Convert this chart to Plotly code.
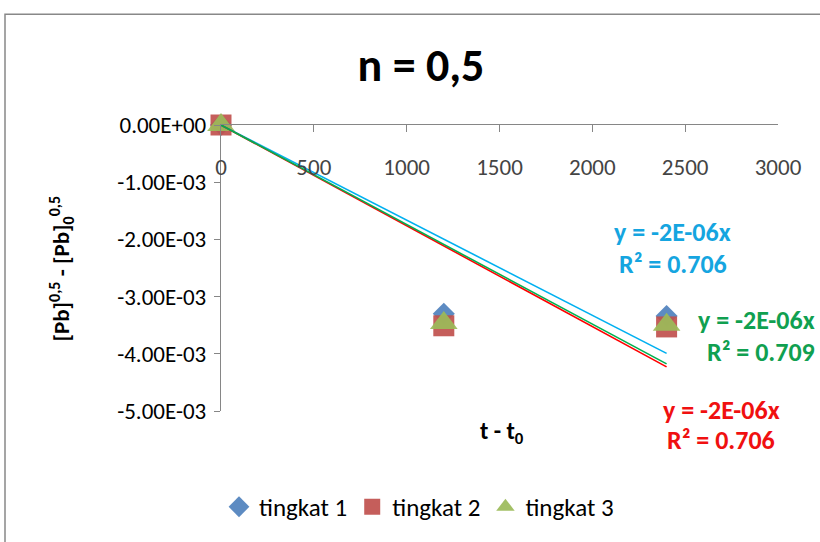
import numpy as np
import plotly.graph_objects as go

# Elapsed time t - t0 (s) and the three series
t = [0, 1200, 2400]
tingkat_1 = [0.0, -3.30e-3, -3.34e-3]
tingkat_2 = [0.0, -3.51e-3, -3.53e-3]
tingkat_3 = [0.0, -3.46e-3, -3.49e-3]

series_names = ["tingkat 1", "tingkat 2", "tingkat 3"]
marker_colors = ["#4F81BD", "#C0504D", "#9BBB59"]
marker_symbols = ["diamond", "square", "triangle-up"]
marker_sizes = [17, 21, 24]
trend_colors = ["#00B0F0", "#FF0000", "#00B050"]

y_tickvals = [0.0, -1e-3, -2e-3, -3e-3, -4e-3, -5e-3]
y_ticktext = ["0.00E+00", "-1.00E-03", "-2.00E-03", "-3.00E-03", "-4.00E-03", "-5.00E-03"]
x_tickvals = [0, 500, 1000, 1500, 2000, 2500, 3000]

# Trendline labels: (text, colour, px x, centre px y, anchor)
trend_labels = [
    ("y = -2E-06x", "#15A5E0", 672, 233, "center"),
    ("R² = 0.706", "#15A5E0", 673, 265, "center"),
    ("y = -2E-06x", "#10A050", 817, 322, "right"),
    ("R² = 0.709", "#10A050", 817, 354, "right"),
    ("y = -2E-06x", "#F01010", 721, 413, "center"),
    ("R² = 0.706", "#F01010", 721, 443, "center"),
]

FONT = "Calibri, Carlito, Lato, sans-serif"
W, H = 820, 542
L, R, T, B = 221, 42, 125, 128          # plot-area margins (px)
PW, PH = W - L - R, H - T - B


def px(x):
    return (x - L) / PW


def py(y):
    return (H - B - y) / PH


fig = go.Figure()

series = [tingkat_1, tingkat_2, tingkat_3]
for name, ys, col, sym, size in zip(series_names, series, marker_colors, marker_symbols, marker_sizes):
    fig.add_trace(go.Scatter(
        x=t, y=ys, mode="markers", name=name, cliponaxis=False,
        marker=dict(symbol=sym, size=size, color=col, opacity=0.92, line=dict(width=0)),
    ))

# Linear trendlines forced through the origin (least squares)
tx = np.array(t, dtype=float)
for ys, col in zip(series, trend_colors):
    slope = float(np.dot(tx, ys) / np.dot(tx, tx))
    xs = [0, max(t)]
    fig.add_trace(go.Scatter(
        x=xs, y=[slope * v for v in xs], mode="lines", cliponaxis=False,
        line=dict(color=col, width=1.6), showlegend=False, hoverinfo="skip",
    ))

annotations = []
for text, col, x, y, anchor in trend_labels:
    annotations.append(dict(
        text=f"<b>{text}</b>", x=px(x), y=py(y), xref="paper", yref="paper",
        xanchor=anchor, yanchor="middle", showarrow=False,
        font=dict(family=FONT, size=26, color=col),
    ))

# Axis titles
annotations.append(dict(
    text="<b>t - t<sub>0</sub></b>", x=px(502), y=py(436), xref="paper", yref="paper",
    xanchor="center", yanchor="middle", showarrow=False,
    font=dict(family=FONT, size=24, color="#000000"),
))
annotations.append(dict(
    text="<b>[Pb]<sup>0,5</sup> - [Pb]<sub>0</sub><sup>0,5</sup></b>",
    x=px(61), y=py(270), xref="paper", yref="paper", textangle=-90,
    xanchor="center", yanchor="middle", showarrow=False,
    font=dict(family=FONT, size=23, color="#000000"),
))

# Chart-area border
shapes = [dict(
    type="rect", xref="paper", yref="paper",
    x0=px(5), x1=px(900), y0=py(700), y1=py(13),
    line=dict(color="#888888", width=1.5), fillcolor="rgba(0,0,0,0)", layer="below",
)]

fig.update_layout(
    width=W, height=H,
    margin=dict(l=L, r=R, t=T, b=B),
    paper_bgcolor="white", plot_bgcolor="rgba(0,0,0,0)",
    font=dict(family=FONT, size=23, color="#000000"),
    title=dict(
        text="<b>n = 0,5</b>", x=421 / W, xref="container", xanchor="center",
        y=1 - 65 / H, yref="container", yanchor="middle",
        font=dict(family=FONT, size=46, color="#000000"),
    ),
    xaxis=dict(
        range=[0, 3000], side="top", tickvals=x_tickvals,
        ticks="inside", ticklen=7, tickcolor="#868686", tickwidth=1,
        ticklabelposition="inside", ticklabelstandoff=28, ticklabeloverflow="allow",
        showline=True, linecolor="#868686", linewidth=1.3,
        showgrid=False, zeroline=False, tickfont=dict(size=23),
    ),
    yaxis=dict(
        range=[-5e-3, 0], tickvals=y_tickvals, ticktext=y_ticktext,
        ticks="outside", ticklen=6, tickcolor="#868686", tickwidth=1,
        ticklabelstandoff=3,
        showline=True, linecolor="#868686", linewidth=1.3,
        showgrid=False, zeroline=False, tickfont=dict(size=23),
    ),
    legend=dict(
        orientation="h", x=px(419), y=py(511), xanchor="center", yanchor="middle",
        font=dict(family=FONT, size=25), bgcolor="rgba(0,0,0,0)",
    ),
    annotations=annotations,
    shapes=shapes,
    showlegend=True,
)

fig.write_html("out.html")
